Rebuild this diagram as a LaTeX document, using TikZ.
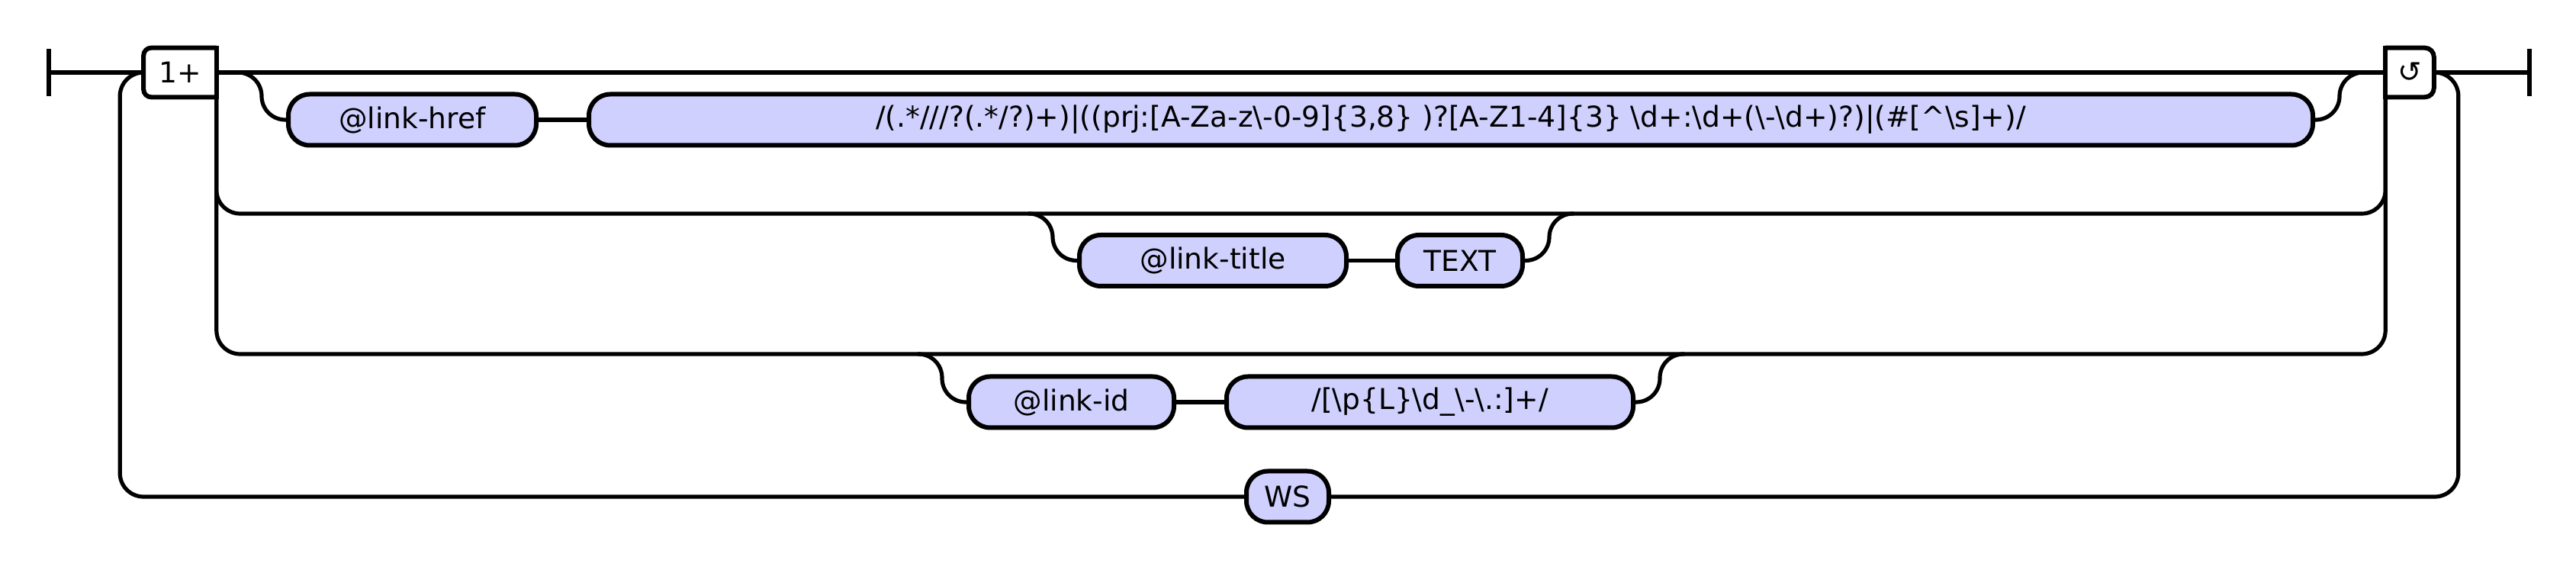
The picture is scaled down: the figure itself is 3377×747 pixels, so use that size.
\documentclass[tikz,border=0pt]{standalone}
\usepackage{fontspec}
\setmainfont{DejaVu Sans}
\usepackage{xcolor}
\usetikzlibrary{positioning,backgrounds}
\definecolor{termblue}{RGB}{208,208,255}

\begin{document}
\begin{tikzpicture}[x=0.25pt,y=-0.25pt,
  font=\fontsize{9.4}{11}\selectfont,
  rail/.style={line width=1.3pt,rounded corners=7.75pt},
  term/.style={draw,fill=termblue,line width=1.5pt,rounded corners=7pt,
    minimum height=16.75pt,inner sep=0pt},
  repbox/.style={fill=white,minimum height=15.75pt,inner sep=0pt},
  boxline/.style={line width=1.5pt},
  endbar/.style={line width=1.5pt}]
  \useasboundingbox (0,0) rectangle (3377,747);

  \coordinate (start) at (64,95);
  \coordinate (end) at (3316,95);
  \coordinate (row2) at (1700,280);
  \coordinate (row3) at (1700,464);

  % repetition boxes
  \node[repbox,minimum width=23.5pt] (rep) at (236,95) {1+};
  \node[repbox,minimum width=15.5pt] (again) at (3159,95) {↺};
  \draw[boxline,rounded corners=2.5pt] (rep.north east) -- (rep.north west) -- (rep.south west) -- (rep.south east);
  \draw[boxline,line cap=rect] (rep.north east) -- (rep.south east);
  \draw[boxline,rounded corners=3pt] (again.north west) -- (again.north east) -- (again.south east) -- (again.south west);
  \draw[boxline,line cap=rect] (again.north west) -- (again.south west);

  % terminals
  \node[term,minimum width=81.25pt] (href) at (540.5,157) {@link-href};
  \node[term,minimum width=565pt] (hrefre) at (1902,157) {/(.*///?(.*/?)+)|((prj:[A-Za-z\textbackslash-0-9]\{3,8\} )?[A-Z1-4]\{3\} \textbackslash d+:\textbackslash d+(\textbackslash-\textbackslash d+)?)|(\#[\textasciicircum\textbackslash s]+)/};
  \node[term,minimum width=87.5pt] (title) at (1590,341.5) {@link-title};
  \node[term,minimum width=41pt] (titletext) at (1914,341.5) {TEXT};
  \node[term,minimum width=67.25pt] (id) at (1404.5,527) {@link-id};
  \node[term,minimum width=133.25pt] (idre) at (1874.5,527) {/[\textbackslash p\{L\}\textbackslash d\_\textbackslash-\textbackslash.:]+/};
  \node[term,minimum width=27pt] (ws) at (1688,651) {WS};

  \begin{scope}[on background layer]
    \draw[endbar] ([yshift=7.75pt]start) -- ([yshift=-7.75pt]start);
    \draw[endbar] ([yshift=7.75pt]end) -- ([yshift=-7.75pt]end);
    \draw[rail] (start) -- (end);
    % loop back through WS
    \draw[rail] (rep) -| ([xshift=-7.75pt]rep.west |- ws) -- (ws) -| ([xshift=8pt]again.east) -- (again);
    % skip lines
    \draw[rail] (rep.east) |- (row2) -| (again.west);
    \draw[rail] (rep.east) |- (row3) -| (again.west);
    % first choice
    \draw[rail] (rep.east) -| ([xshift=-8pt]href.west) -- (href);
    \draw[rail] (href) -- (hrefre);
    \draw[rail] (hrefre) -- ([xshift=8pt]hrefre.east) |- (again.west);
    % second choice
    \draw[rail] ([xshift=-16pt]title.west |- row2) -| ([xshift=-8pt]title.west) -- (title);
    \draw[rail] (title) -- (titletext);
    \draw[rail] (titletext) -- ([xshift=8pt]titletext.east) |- ([xshift=16pt]titletext.east |- row2);
    % third choice
    \draw[rail] ([xshift=-16pt]id.west |- row3) -| ([xshift=-8pt]id.west) -- (id);
    \draw[rail] (id) -- (idre);
    \draw[rail] (idre) -- ([xshift=8pt]idre.east) |- ([xshift=16pt]idre.east |- row3);
  \end{scope}
\end{tikzpicture}
\end{document}
